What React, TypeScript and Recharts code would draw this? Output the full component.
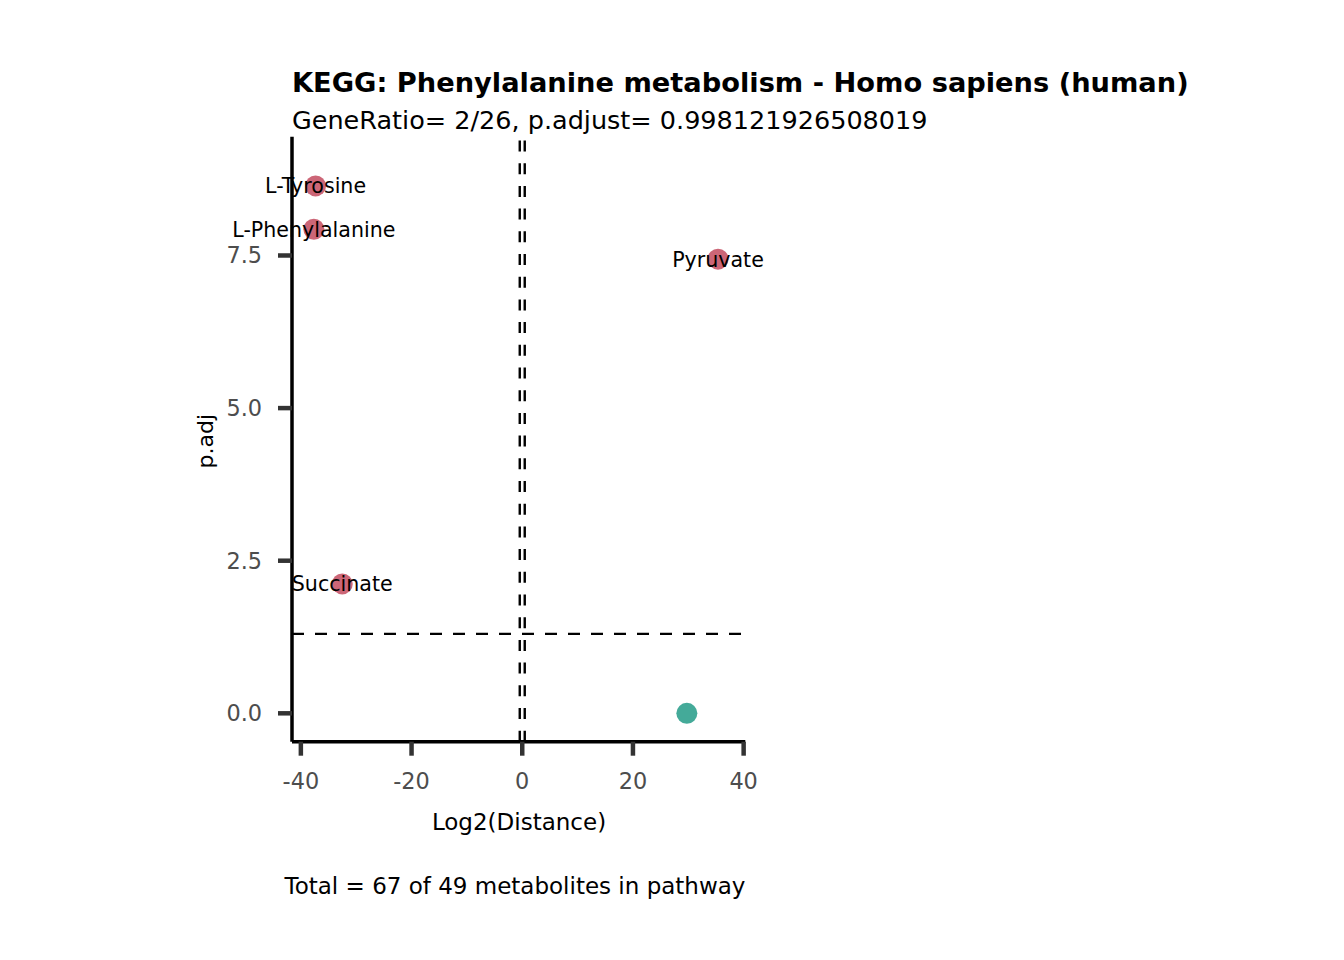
import React from 'react';
import { ScatterChart, Scatter, XAxis, YAxis, ReferenceLine } from 'recharts';

// ---- data ----
const metabolites = ['L-Tyrosine', 'L-Phenylalanine', 'Pyruvate', 'Succinate', ''];
const log2Distance = [-37.34, -37.65, 35.37, -32.52, 29.74];
const pAdj = [8.64, 7.93, 7.44, 2.12, 0.0];
const isSignificant = [true, true, true, true, false];

const xTicks = [-40, -20, 0, 20, 40];
const yTicks = [0, 2.5, 5, 7.5];
const xDomain: [number, number] = [-41.6, 40.3];
const yDomain: [number, number] = [-0.465, 9.446];
const pCutoff = 1.301; // -log10(0.05)
const distCutoffs = [-0.45, 0.45];

const titleText = 'KEGG: Phenylalanine metabolism - Homo sapiens (human)';
const subtitleText = 'GeneRatio= 2/26, p.adjust= 0.998121926508019';
const xTitle = 'Log2(Distance)';
const yTitle = 'p.adj';
const captionText = 'Total = 67 of 49 metabolites in pathway';

const SIG_COLOR = '#CC6677';
const NS_COLOR = '#44AA99';
const FONT = '"DejaVu Sans", Verdana, sans-serif';

const points = metabolites.map((name, i) => ({
  name,
  x: log2Distance[i],
  y: pAdj[i],
  sig: isSignificant[i],
}));
const sigPoints = points.filter((p) => p.sig);
const nsPoints = points.filter((p) => !p.sig);

const W = 1344;
const H = 960;
const Y_AXIS_W = 100;
const X_AXIS_H = 80;
const plotLeft = 292;
const plotRight = 745.3;
const plotTop = 136.7;
const plotBottom = 741.7;

const Dot = (color: string) => (props: any) => {
  const { cx, cy } = props;
  if (cx == null || cy == null) return null;
  return <circle cx={cx} cy={cy} r={10.5} fill={color} />;
};

const LabelShape = (props: any) => {
  const { cx, cy, payload } = props;
  if (cx == null || cy == null || !payload?.name) return null;
  return (
    <text
      x={cx}
      y={cy}
      dy="0.36em"
      textAnchor="middle"
      fontFamily={FONT}
      fontSize={20.6}
      fill="#000"
    >
      {payload.name}
    </text>
  );
};

export default function App() {
  return (
    <div style={{ position: 'absolute', left: 0, top: 0, width: W, height: H, background: '#fff' }}>
      <ScatterChart
        width={W}
        height={H}
        margin={{
          top: plotTop,
          right: W - plotRight,
          left: plotLeft - Y_AXIS_W,
          bottom: H - plotBottom - X_AXIS_H,
        }}
      >
        <XAxis
          type="number"
          dataKey="x"
          domain={xDomain}
          ticks={xTicks}
          height={X_AXIS_H}
          axisLine={{ stroke: '#000', strokeWidth: 3.5 }}
          tickLine={{ stroke: '#333333', strokeWidth: 4.5 }}
          tickSize={14}
          tickMargin={17.5}
          tick={{ fill: '#4D4D4D', fontSize: 22.4, fontFamily: FONT }}
          interval={0}
        />
        <YAxis
          type="number"
          dataKey="y"
          domain={yDomain}
          ticks={yTicks}
          width={Y_AXIS_W}
          axisLine={{ stroke: '#000', strokeWidth: 3.5 }}
          tickLine={{ stroke: '#333333', strokeWidth: 4.5 }}
          tickSize={14}
          tickMargin={16}
          tick={{ fill: '#4D4D4D', fontSize: 22.4, fontFamily: FONT }}
          tickFormatter={(v: number) => v.toFixed(1)}
          interval={0}
        />
        {distCutoffs.map((c) => (
          <ReferenceLine
            key={c}
            x={c}
            stroke="#000"
            strokeWidth={2.4}
            strokeDasharray="11 11.7"
          />
        ))}
        <ReferenceLine y={pCutoff} stroke="#000" strokeWidth={2.4} strokeDasharray="12 11" />
        <Scatter data={nsPoints} shape={Dot(NS_COLOR)} isAnimationActive={false} />
        <Scatter data={sigPoints} shape={Dot(SIG_COLOR)} isAnimationActive={false} />
        <Scatter data={sigPoints} shape={LabelShape} isAnimationActive={false} />
      </ScatterChart>
      <svg
        width={W}
        height={H}
        style={{ position: 'absolute', left: 0, top: 0, pointerEvents: 'none' }}
      >
        <text x={292} y={92} fontFamily={FONT} fontWeight="bold" fontSize={27.25} fill="#000">
          {titleText}
        </text>
        <text x={292} y={128.5} fontFamily={FONT} fontSize={25.5} fill="#000">
          {subtitleText}
        </text>
        <text
          x={519}
          y={830}
          textAnchor="middle"
          fontFamily={FONT}
          fontSize={23}
          fill="#000"
        >
          {xTitle}
        </text>
        <text
          transform={`translate(212.5, ${(plotTop + plotBottom) / 2 + 2}) rotate(-90)`}
          textAnchor="middle"
          fontFamily={FONT}
          fontSize={22}
          fill="#000"
        >
          {yTitle}
        </text>
        <text x={515} y={894} textAnchor="middle" fontFamily={FONT} fontSize={23} fill="#000">
          {captionText}
        </text>
      </svg>
    </div>
  );
}
